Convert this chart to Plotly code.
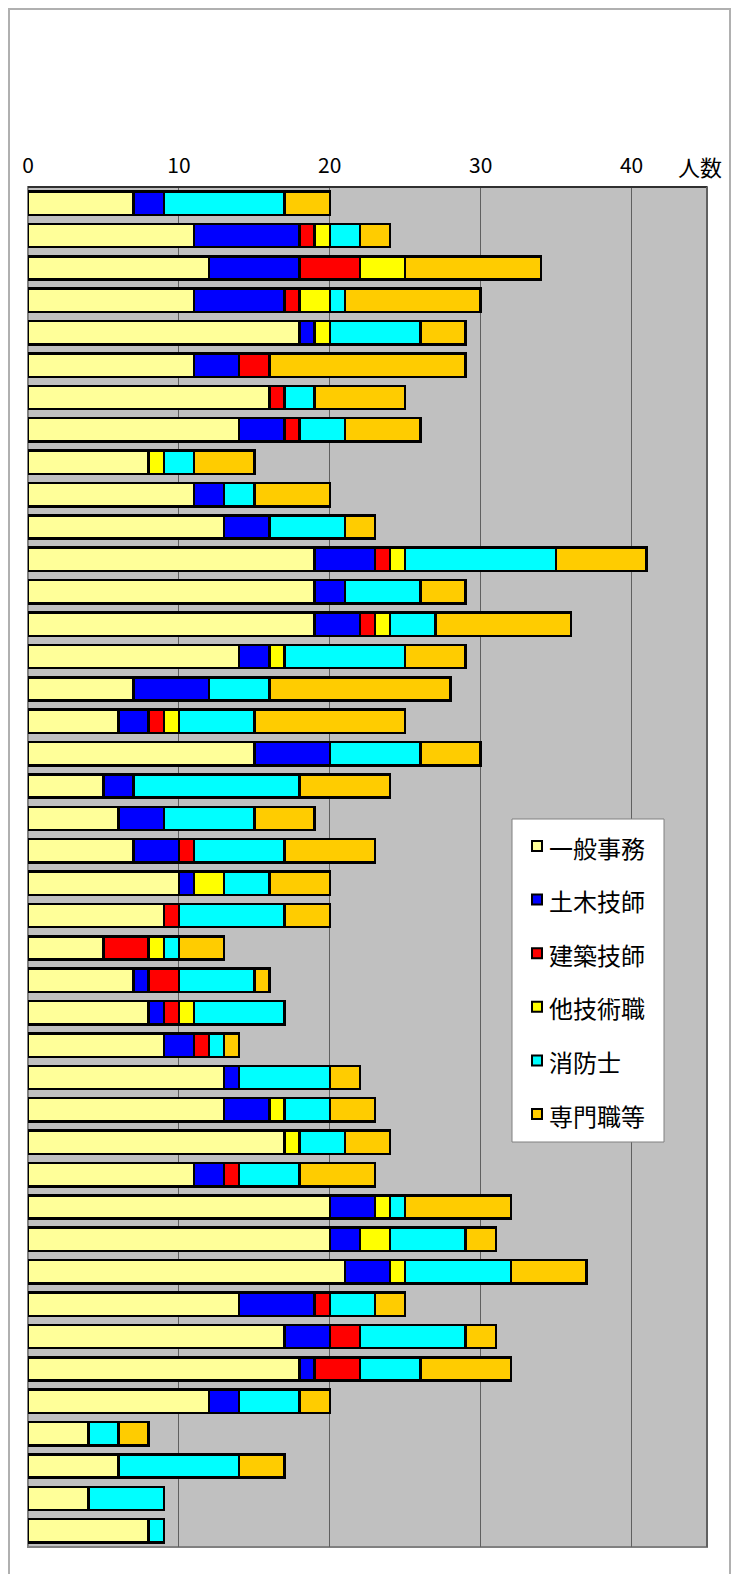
import plotly.graph_objects as go

# 42 rows, top to bottom
rows = list(range(1, 43))

general = [7, 11, 12, 11, 18, 11, 16, 14, 8, 11, 13, 19, 19, 19, 14, 7, 6, 15, 5, 6, 7,
           10, 9, 5, 7, 8, 9, 13, 13, 17, 11, 20, 20, 21, 14, 17, 18, 12, 4, 6, 4, 8]
civil = [2, 7, 6, 6, 1, 3, 0, 3, 0, 2, 3, 4, 2, 3, 2, 5, 2, 5, 2, 3, 3,
         1, 0, 0, 1, 1, 2, 1, 3, 0, 2, 3, 2, 3, 5, 3, 1, 2, 0, 0, 0, 0]
architect = [0, 1, 4, 1, 0, 2, 1, 1, 0, 0, 0, 1, 0, 1, 0, 0, 1, 0, 0, 0, 1,
             0, 1, 3, 2, 1, 1, 0, 0, 0, 1, 0, 0, 0, 1, 2, 3, 0, 0, 0, 0, 0]
other_tech = [0, 1, 3, 2, 1, 0, 0, 0, 1, 0, 0, 1, 0, 1, 1, 0, 1, 0, 0, 0, 0,
              2, 0, 1, 0, 1, 0, 0, 1, 1, 0, 1, 2, 1, 0, 0, 0, 0, 0, 0, 0, 0]
firefighter = [8, 2, 0, 1, 6, 0, 2, 3, 2, 2, 5, 10, 5, 3, 8, 4, 5, 6, 11, 6, 6,
               3, 7, 1, 5, 6, 1, 6, 3, 3, 4, 1, 5, 7, 3, 7, 4, 4, 2, 8, 5, 1]
specialist = [3, 2, 9, 9, 3, 13, 6, 5, 4, 5, 2, 6, 3, 9, 4, 12, 10, 4, 6, 4, 6,
              4, 3, 3, 1, 0, 1, 2, 3, 3, 5, 7, 2, 5, 2, 2, 6, 2, 2, 3, 0, 0]

series = [
    ("一般事務", general, "#FFFF99"),
    ("土木技師", civil, "#0000FF"),
    ("建築技師", architect, "#FF0000"),
    ("他技術職", other_tech, "#FFFF00"),
    ("消防士", firefighter, "#00FFFF"),
    ("専門職等", specialist, "#FFCC00"),
]

font = "Noto Sans CJK JP"

fig = go.Figure()
for name, vals, color in series:
    fig.add_trace(go.Bar(
        y=rows, x=vals, orientation="h", name=name,
        marker=dict(color=color, line=dict(color="black", width=2.5)),
    ))

# plot area in page pixels: left 28, right 707, top 187, bottom 1547
# (the page body adds an 8px margin around the figure)
W, H = 679, 1360
def px(x):
    return (x - 28) / W
def py(y):
    return (1547 - y) / H

shapes = [
    # plot area frame
    dict(type="rect", xref="paper", yref="paper", x0=0, x1=1, y0=0, y1=1,
         line=dict(color="#808080", width=2), layer="below"),
    dict(type="line", xref="paper", yref="paper", x0=0, x1=1, y0=1, y1=1,
         line=dict(color="#303030", width=2)),
    dict(type="line", xref="paper", yref="paper", x0=1, x1=1, y0=0, y1=1,
         line=dict(color="#606060", width=2)),
    # outer frame
    dict(type="path", xref="paper", yref="paper",
         path=f"M {px(9)} {py(1580)} L {px(9)} {py(9)} L {px(730)} {py(9)} L {px(730)} {py(1580)}",
         line=dict(color="#B0B0B0", width=2)),
    # legend box
    dict(type="rect", xref="paper", yref="paper", x0=px(512), x1=px(664),
         y0=py(1142), y1=py(819), fillcolor="white",
         line=dict(color="#808080", width=1), layer="above"),
]
annotations = [
    dict(text="人数", xref="paper", yref="paper", x=px(700), y=py(166),
         showarrow=False, font=dict(size=22), xanchor="center", yanchor="middle"),
]

# hand-drawn legend: small swatch + label
for i, (name, vals, color) in enumerate(series):
    cy = 846 + i * 53.6
    shapes.append(dict(type="rect", xref="paper", yref="paper",
                       x0=px(532), x1=px(542), y0=py(cy + 5), y1=py(cy - 5),
                       fillcolor=color, line=dict(color="black", width=2),
                       layer="above"))
    annotations.append(dict(text=name, xref="paper", yref="paper",
                            x=px(547), y=py(cy + 1), xanchor="left", yanchor="middle",
                            showarrow=False, font=dict(size=24)))

fig.update_layout(
    width=731, height=1566,
    barmode="stack", bargap=0.28,
    margin=dict(l=20, r=32, t=179, b=27),
    paper_bgcolor="white", plot_bgcolor="#C0C0C0",
    font=dict(family=font, color="black"),
    xaxis=dict(side="top", range=[0, 45], tickvals=[0, 10, 20, 30, 40],
               showgrid=True, gridcolor="#606060", gridwidth=1, zeroline=False,
               tickfont=dict(size=21), ticklabelstandoff=9, ticks=""),
    yaxis=dict(range=[42.5, 0.5], showticklabels=False, showgrid=False,
               zeroline=False, ticks=""),
    showlegend=False,
    shapes=shapes,
    annotations=annotations,
)

fig.write_html("out.html")
